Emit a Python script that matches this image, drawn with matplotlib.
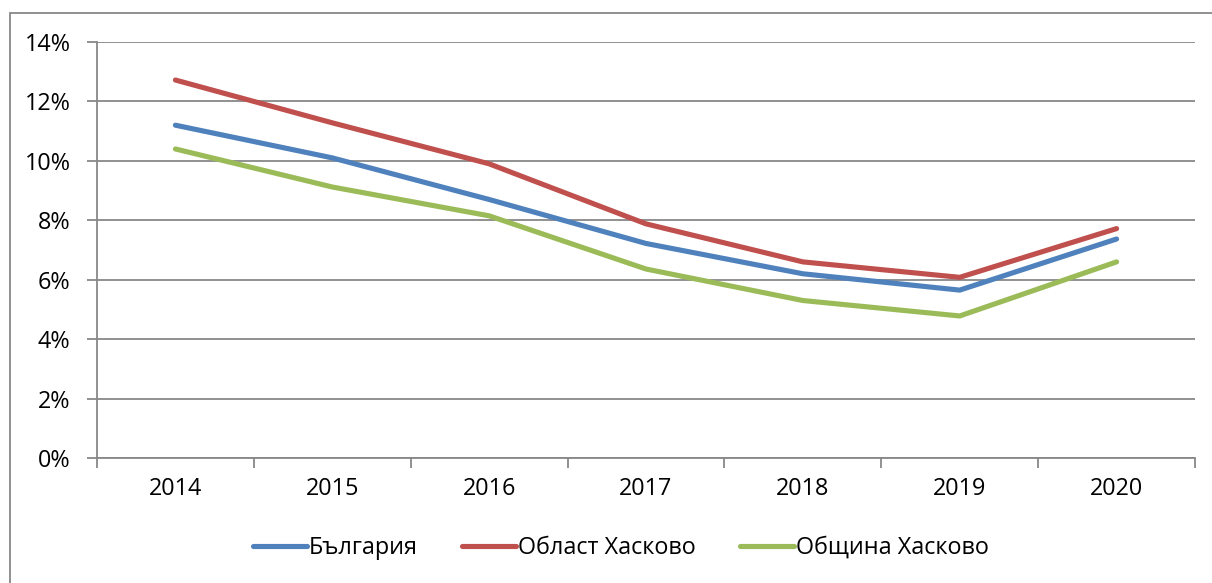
import matplotlib
matplotlib.use("Agg")
import matplotlib.pyplot as plt
from matplotlib.patches import Rectangle
from matplotlib.ticker import FixedLocator, NullFormatter, FixedFormatter

years = ["2014", "2015", "2016", "2017", "2018", "2019", "2020"]
bulgaria = [11.2, 10.1, 8.7, 7.22, 6.2, 5.65, 7.37]
oblast = [12.72, 11.28, 9.9, 7.88, 6.6, 6.08, 7.72]
obshtina = [10.4, 9.12, 8.15, 6.36, 5.3, 4.78, 6.6]
series_names = ["България", "Област Хасково", "Община Хасково"]
y_ticks = [0, 2, 4, 6, 8, 10, 12, 14]

plt.rcParams['font.family'] = ['Open Sans', 'DejaVu Sans']

W, H = 1212, 583
fig = plt.figure(figsize=(W / 100, H / 100), dpi=100)
ax = fig.add_axes([97 / W, 1 - 458 / H, (1195 - 97) / W, (458 - 42) / H])

gray = "#888888"
colors = ["#4F81BD", "#C0504D", "#9BBB59"]
fs = 16.8
x = list(range(len(years)))
for vals, name, c in zip([bulgaria, oblast, obshtina], series_names, colors):
    ax.plot(x, vals, color=c, lw=3.7, label=name, solid_capstyle="round")

ax.set_xlim(-0.5, len(years) - 0.5)
ax.set_ylim(0, 14)
ax.set_yticks(y_ticks)
ax.set_yticklabels([f"{t}%" for t in y_ticks])
ax.yaxis.grid(True, color=gray, lw=1.3)
ax.set_axisbelow(True)

ax.xaxis.set_major_locator(FixedLocator([i - 0.5 for i in range(len(years) + 1)]))
ax.xaxis.set_major_formatter(NullFormatter())
ax.xaxis.set_minor_locator(FixedLocator(x))
ax.xaxis.set_minor_formatter(FixedFormatter(years))
ax.tick_params(axis="x", which="major", length=7, width=1.3, color=gray, direction="out")
ax.tick_params(axis="x", which="minor", length=0, pad=14, labelsize=fs)
ax.tick_params(axis="y", length=7, width=1.3, color=gray, pad=12, labelsize=fs)

for s in ["top", "right"]:
    ax.spines[s].set_visible(False)
for s in ["left", "bottom"]:
    ax.spines[s].set_color(gray)
    ax.spines[s].set_linewidth(1.3)

fig.patches.append(Rectangle((10 / W, -0.1), 1.2, (1 - 13 / H) + 0.1,
                             transform=fig.transFigure, fill=False,
                             edgecolor=gray, lw=1.3))

fig.legend(loc="center", bbox_to_anchor=(621 / W, 1 - 548 / H), ncol=3,
           frameon=False, fontsize=fs, handlelength=2.3, handletextpad=0.1,
           columnspacing=1.9)

fig.savefig("out.png", dpi=100)
